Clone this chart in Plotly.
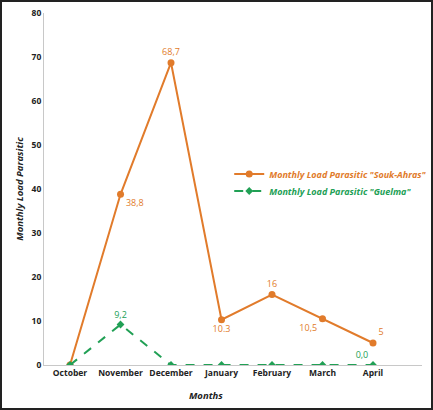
import plotly.graph_objects as go

months = ["October", "November", "December", "January", "February", "March", "April"]
souk_ahras = [0, 38.8, 68.7, 10.3, 16, 10.5, 5]
souk_labels = ["", "38,8", "68,7", "10.3", "16", "10,5", "5"]
guelma = [0, 9.2, 0, 0, 0, 0, 0]
guelma_labels = ["", "9,2", "", "", "", "", "0,0"]
y_ticks = [0, 10, 20, 30, 40, 50, 60, 70, 80]

ORANGE = "#E17B2B"
GREEN = "#21A055"
FONT = "Open Sans"

fig = go.Figure()
fig.add_trace(go.Scatter(
    x=months, y=souk_ahras, mode="lines+markers+text",
    name='Monthly Load Parasitic "Souk-Ahras"',
    line=dict(color=ORANGE, width=2),
    marker=dict(color=ORANGE, size=7, symbol="circle"),
    text=souk_labels,
    textposition=["top center", "bottom right", "top center", "bottom center", "top center", "bottom left", "top right"],
    textfont=dict(color=ORANGE, size=9, family=FONT),
    legend="legend",
))
fig.add_trace(go.Scatter(
    x=months, y=guelma, mode="lines+markers+text",
    name='Monthly Load Parasitic "Guelma"',
    line=dict(color=GREEN, width=2, dash="dash"),
    marker=dict(color=GREEN, size=6, symbol="diamond"),
    text=guelma_labels,
    textposition=["top center", "top center", "top center", "top center", "top center", "top center", "top left"],
    textfont=dict(color=GREEN, size=9, family=FONT),
    legend="legend2",
))

W, H = 433, 410
ml, mr, mt, mb = 44, 11, 13, 45
pw, ph = W - ml - mr, H - mt - mb

def legend_cfg(y, color):
    return dict(
        x=0.49, y=y, xanchor="left", yanchor="middle",
        bgcolor="rgba(0,0,0,0)",
        font=dict(size=9, family=FONT, style="italic", weight="bold", color=color),
        itemwidth=30,
    )

fig.update_layout(
    width=W, height=H,
    margin=dict(l=ml, r=mr, t=mt, b=mb, autoexpand=False),
    paper_bgcolor="white", plot_bgcolor="white",
    font=dict(family=FONT, size=9, color="#222"),
    showlegend=True,
    legend=legend_cfg((365 - 174) / ph, ORANGE),
    legend2=legend_cfg((365 - 191) / ph, GREEN),
    xaxis=dict(
        type="category", range=[-0.515, 6.97],
        showgrid=False, showline=True, linecolor="#C8C8C8", linewidth=1,
        ticks="", tickangle=0, automargin=False,
        tickfont=dict(size=8.5, family=FONT, weight="bold", color="#222"),
        zeroline=False,
    ),
    yaxis=dict(
        range=[0, 80], tickvals=y_ticks, automargin=False,
        showgrid=False, showline=True, linecolor="#C8C8C8", linewidth=1,
        ticks="", tickfont=dict(size=8.5, family=FONT, weight="bold", color="#222"),
        title=dict(text="Monthly Load Parasitic", font=dict(size=9.5, family=FONT, style="italic", weight="bold", color="#222"), standoff=6),
        zeroline=False,
    ),
    annotations=[dict(
        text="Months", xref="paper", yref="paper",
        x=(206 - ml) / pw, y=-(395 - (H - mb)) / ph,
        xanchor="center", yanchor="middle", showarrow=False,
        font=dict(size=9.5, family=FONT, style="italic", weight="bold", color="#222"),
    )],
    shapes=[dict(
        type="rect", xref="paper", yref="paper",
        x0=-(ml - 1) / pw, x1=1 + (mr - 1) / pw,
        y0=-(mb - 1) / ph, y1=1 + (mt - 1) / ph,
        line=dict(color="#222", width=2), layer="above",
    )],
)

fig.write_html("out.html", config={"displayModeBar": False})
with open("out.html", "r", encoding="utf-8") as f:
    html = f.read()
html = html.replace("<body>", '<body style="margin:0;padding:0;overflow:hidden">', 1)
with open("out.html", "w", encoding="utf-8") as f:
    f.write(html)
